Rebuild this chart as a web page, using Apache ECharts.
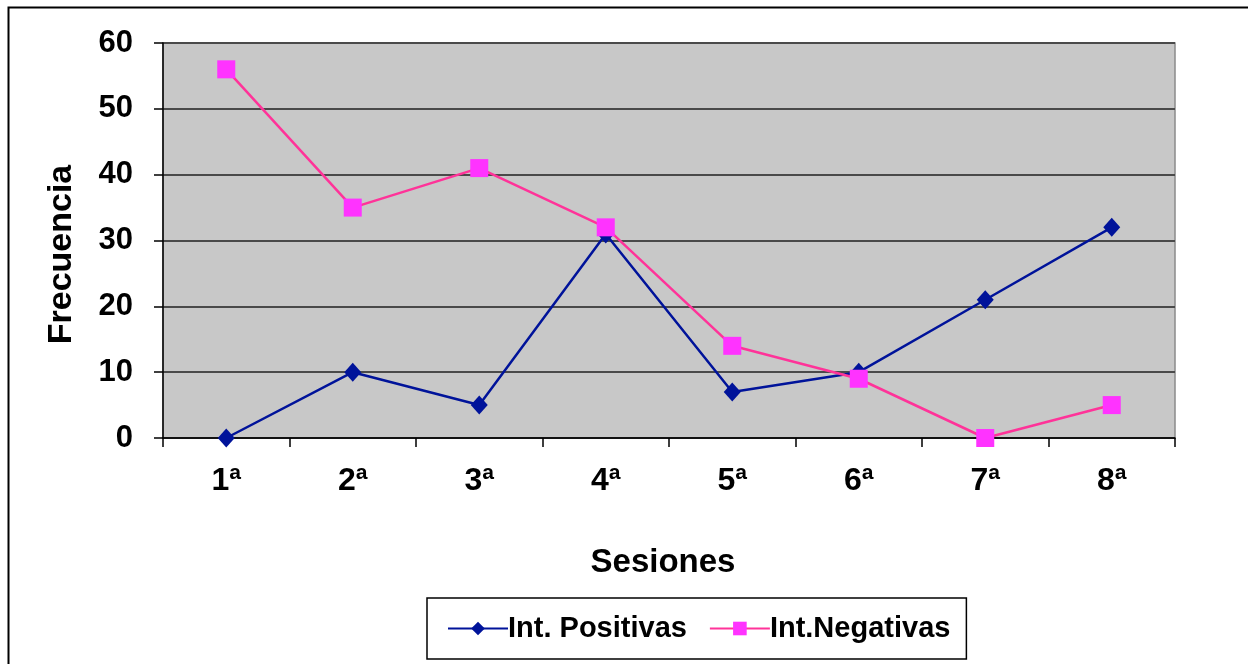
<!DOCTYPE html>
<html><head><meta charset="utf-8">
<script src="https://cdn.jsdelivr.net/npm/echarts@6/dist/echarts.min.js"></script>
<style>html,body{margin:0;padding:0;background:#fff}#c{width:1248px;height:664px}</style>
</head><body><div id="c"></div>
<script>
const categories = ['1ª','2ª','3ª','4ª','5ª','6ª','7ª','8ª'];
const positivas = [0, 10, 5, 31, 7, 10, 21, 32];
const negativas = [56, 35, 41, 32, 14, 9, 0, 5];
const yTicks = [0, 10, 20, 30, 40, 50, 60];

const font = 'Liberation Sans, Arial, sans-serif';
const chart = echarts.init(document.getElementById('c'));
chart.setOption({
  animation: false,
  textStyle: { fontFamily: font },
  graphic: [{
    type: 'rect', left: 6, top: 5, z: -10,
    shape: { width: 1260, height: 680 },
    style: { fill: 'none', stroke: '#000', lineWidth: 2 }
  }],
  grid: { left: 163, right: 73, top: 43, bottom: 226, show: true,
    backgroundColor: '#c8c8c8', borderColor: '#8a8a8a', borderWidth: 1.5 },
  legend: {
    bottom: 5, left: 427,
    itemGap: 22, itemWidth: 60, itemHeight: 17,
    borderColor: '#000', borderWidth: 1.5, padding: [16, 16, 16, 20],
    textStyle: { fontSize: 29, fontWeight: 'bold', color: '#000', fontFamily: font, padding: [0, 0, 0, -5] },
    data: ['Int. Positivas', 'Int.Negativas']
  },
  xAxis: {
    type: 'category', data: categories, boundaryGap: true,
    name: 'Sesiones', nameLocation: 'middle', nameGap: 108,
    nameTextStyle: { fontSize: 33, fontWeight: 'bold', color: '#000', padding: [0, 12, 0, 0] },
    axisLine: { lineStyle: { color: '#000', width: 1.5 } },
    axisTick: { show: true, length: 9, inside: false, lineStyle: { color: '#000', width: 1.5 } },
    axisLabel: { fontSize: 32, fontWeight: 'bold', color: '#000', margin: 27 }
  },
  yAxis: {
    type: 'value', min: 0, max: 60, interval: 10,
    name: 'Frecuencia', nameLocation: 'middle', nameGap: 84, nameRotate: 90,
    nameTextStyle: { fontSize: 34, fontWeight: 'bold', color: '#000', padding: [0, 28, 0, 0] },
    axisLine: { show: true, lineStyle: { color: '#000', width: 1.5 } },
    axisTick: { show: true, length: 9, lineStyle: { color: '#000', width: 1.5 } },
    axisLabel: { fontSize: 31, fontWeight: 'bold', color: '#000', margin: 30,
      formatter: v => yTicks.includes(v) ? String(v) : '' },
    splitLine: { show: true, lineStyle: { color: '#4a4a4a', width: 2 } }
  },
  series: [{
    name: 'Int. Positivas', type: 'line', data: positivas,
    symbol: 'diamond', symbolSize: [17, 19],
    lineStyle: { color: '#00139a', width: 2.5 },
    itemStyle: { color: '#00139a' }, z: 3
  }, {
    name: 'Int.Negativas', type: 'line', data: negativas,
    symbol: 'rect', symbolSize: 18,
    lineStyle: { color: '#ff3399', width: 2.5 },
    itemStyle: { color: '#ff33ff' }, z: 4
  }]
});
</script></body></html>
